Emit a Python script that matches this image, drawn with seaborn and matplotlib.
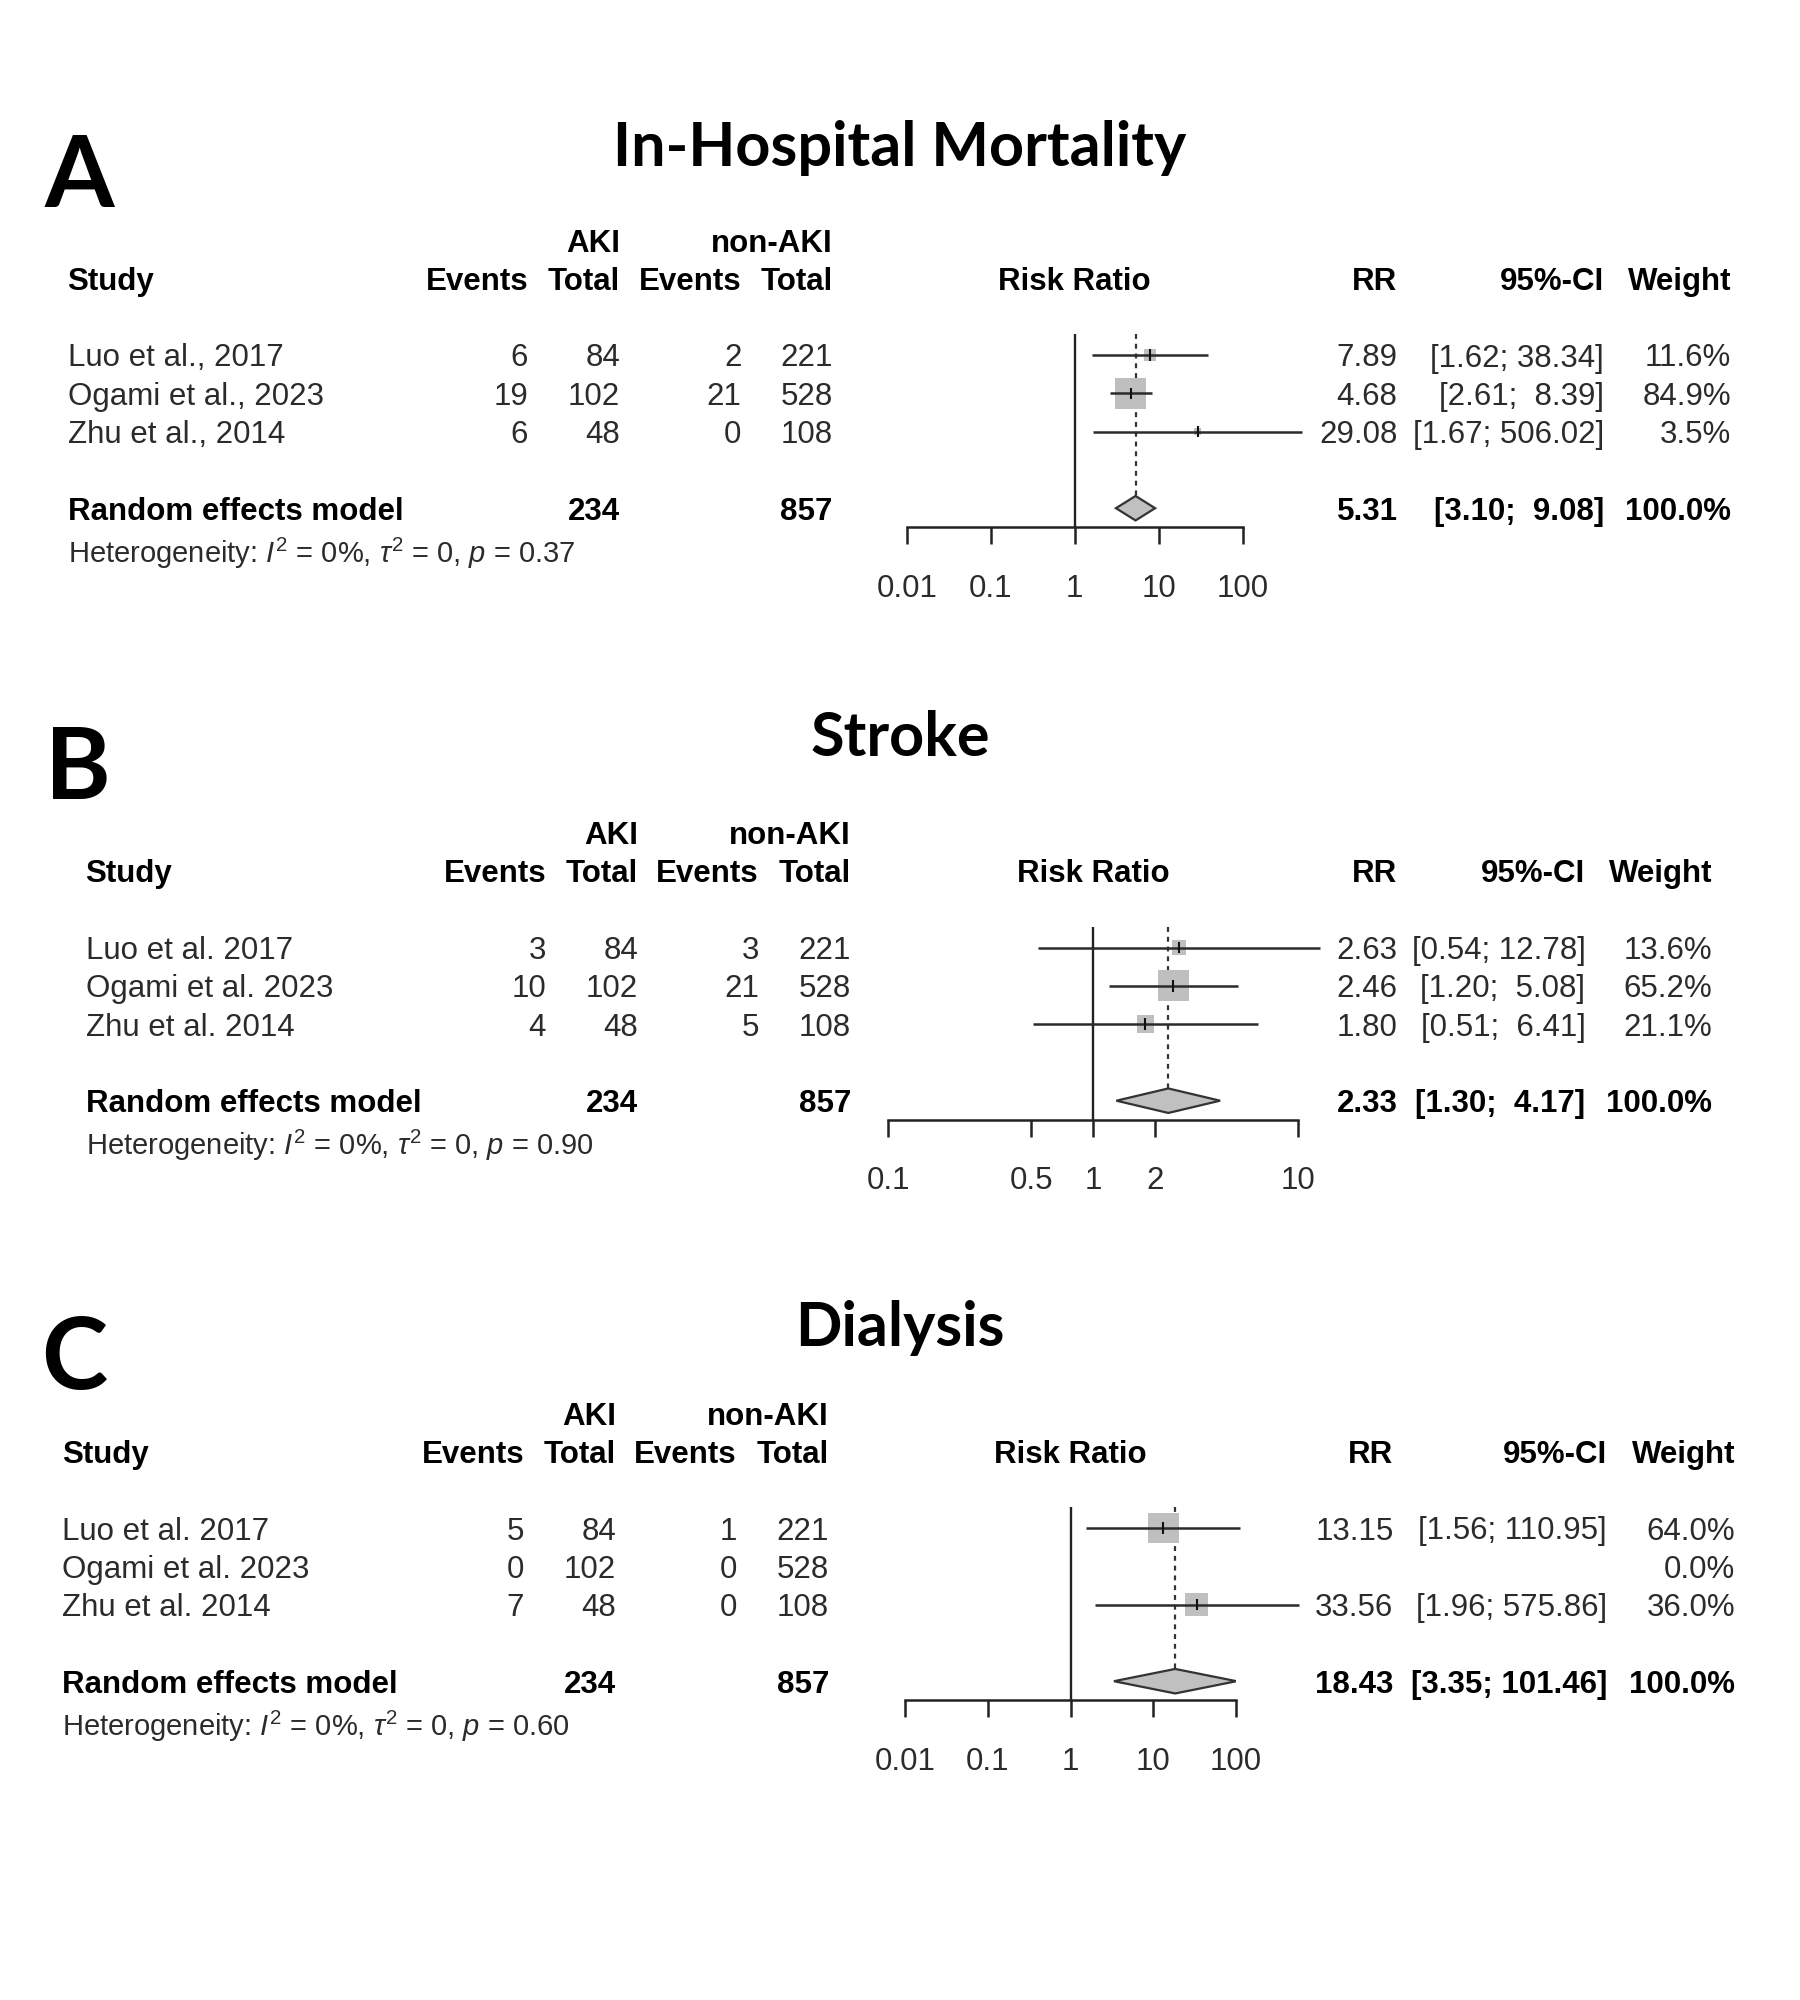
import numpy as np
import pandas as pd
import matplotlib
matplotlib.use('Agg')
import matplotlib.pyplot as plt
import matplotlib.transforms as mtransforms
from matplotlib.patches import Polygon
import seaborn as sns

sns.set_style('white')
plt.rcParams['font.family'] = ['Liberation Sans', 'DejaVu Sans']
plt.rcParams['mathtext.fontset'] = 'custom'
plt.rcParams['mathtext.rm'] = 'Liberation Sans'
plt.rcParams['mathtext.it'] = 'Liberation Sans:italic'

# ---- data -----------------------------------------------------------
# A: in-hospital mortality
studies_a = ['Luo et al., 2017', 'Ogami et al., 2023', 'Zhu et al., 2014']
ev_aki_a = [6, 19, 6]
tot_aki_a = [84, 102, 48]
ev_non_a = [2, 21, 0]
tot_non_a = [221, 528, 108]
rr_a = [7.89, 4.68, 29.08]
lo_a = [1.62, 2.61, 1.67]
hi_a = [38.34, 8.39, 506.02]
wt_a = [11.6, 84.9, 3.5]
summ_a = [5.31, 3.10, 9.08]
p_a = '0.37'
ticks_a = [0.01, 0.1, 1, 10, 100]
ticklab_a = ['0.01', '0.1', '1', '10', '100']

# B: stroke
studies_b = ['Luo et al. 2017', 'Ogami et al. 2023', 'Zhu et al. 2014']
ev_aki_b = [3, 10, 4]
tot_aki_b = [84, 102, 48]
ev_non_b = [3, 21, 5]
tot_non_b = [221, 528, 108]
rr_b = [2.63, 2.46, 1.80]
lo_b = [0.54, 1.20, 0.51]
hi_b = [12.78, 5.08, 6.41]
wt_b = [13.6, 65.2, 21.1]
summ_b = [2.33, 1.30, 4.17]
p_b = '0.90'
ticks_b = [0.1, 0.5, 1, 2, 10]
ticklab_b = ['0.1', '0.5', '1', '2', '10']

# C: dialysis
studies_c = ['Luo et al. 2017', 'Ogami et al. 2023', 'Zhu et al. 2014']
ev_aki_c = [5, 0, 7]
tot_aki_c = [84, 102, 48]
ev_non_c = [1, 0, 0]
tot_non_c = [221, 528, 108]
rr_c = [13.15, np.nan, 33.56]
lo_c = [1.56, np.nan, 1.96]
hi_c = [110.95, np.nan, 575.86]
wt_c = [64.0, 0.0, 36.0]
summ_c = [18.43, 3.35, 101.46]
p_c = '0.60'
ticks_c = [0.01, 0.1, 1, 10, 100]
ticklab_c = ['0.01', '0.1', '1', '10', '100']

total_aki = 234
total_non = 857

# ---- layout (pixels in the 1800x2000 canvas) -------------------------
W, H = 1800, 2000
UNIT = 38.3
layout = {
    'A': dict(row0=355, xl=907, xr=1242.5, study=67.5, c1=528, c2=620, c3=741.5, c4=832.5,
              rr=1397.5, ci=1604, wt=1731, title_y=144, letter=(44.6, 170)),
    'B': dict(row0=947.5, xl=888, xr=1298, study=85.5, c1=546, c2=638, c3=759, c4=851,
              rr=1397.5, ci=1585.5, wt=1712, title_y=733.5, letter=(44.6, 762)),
    'C': dict(row0=1528, xl=905, xr=1236, study=62.5, c1=524, c2=616, c3=737, c4=829,
              rr=1393.5, ci=1607, wt=1735, title_y=1323.5, letter=(41, 1352)),
}

TXT = '#2b2b2b'
FS = 22.5

fig = plt.figure(figsize=(18, 20), dpi=100)
fig.patch.set_facecolor('white')


def fig_text(x_px, yc_px, s, cap_px, **kw):
    # place text with its cap-height centre at yc_px
    fig.text(x_px / W, 1 - (yc_px + cap_px / 2) / H, s, va='baseline', **kw)


def fmt_ci(lo, hi):
    pad = ' ' if hi < 10 else ''
    return f'[{lo:.2f}; {pad}{hi:.2f}]'


def draw_panel(key, title, studies, ev1, n1, ev2, n2, rr, lo, hi, wt, summ, ticks, ticklab, p):
    L = layout[key]
    top_px = L['row0'] - 0.54 * UNIT
    bot_px = L['row0'] + 4.5 * UNIT
    ax = fig.add_axes([L['xl'] / W, 1 - bot_px / H, (L['xr'] - L['xl']) / W, (bot_px - top_px) / H])
    ax.set_xscale('log')
    ax.set_xlim(ticks[0], ticks[-1])
    ax.set_ylim(4.5, -0.54)
    ax.patch.set_alpha(0)
    for s in ['top', 'right', 'left']:
        ax.spines[s].set_visible(False)
    ax.spines['bottom'].set_linewidth(1.8)
    ax.spines['bottom'].set_color('#222222')
    ax.set_xticks(ticks)
    ax.set_xticklabels(ticklab)
    ax.xaxis.set_minor_locator(matplotlib.ticker.NullLocator())
    ax.set_yticks([])
    ax.tick_params(axis='x', bottom=True, direction='out', length=12.5, width=1.8,
                   color='#222222', pad=21, labelsize=FS, labelcolor=TXT)

    df = pd.DataFrame({'rr': rr, 'lo': lo, 'hi': hi, 'w': wt, 'row': np.arange(len(rr))})
    d = df.dropna()
    ax.axvline(1, color='#222222', lw=1.7, zorder=1)
    ax.vlines(summ[0], -0.54, 4 - 0.32, colors='#333333', lw=1.6,
              linestyles=(0, (2.2, 2.2)), zorder=1)
    sns.scatterplot(data=d, x='rr', y='row', size='w', sizes=(0, 498), size_norm=(0, max(wt)),
                    marker='s', color='#bfbfbf', linewidth=0, legend=False, ax=ax, zorder=2,
                    clip_on=False)
    ax.hlines(d['row'], d['lo'], d['hi'], colors='#2b2b2b', lw=1.8, zorder=3, clip_on=False)
    ax.vlines(d['rr'], d['row'] - 0.15, d['row'] + 0.15, colors='#111111', lw=1.5, zorder=4)
    diamond = Polygon([(summ[1], 4), (summ[0], 4 - 0.32), (summ[2], 4), (summ[0], 4 + 0.32)],
                      closed=True, facecolor='#c0c0c0', edgecolor='#333333', lw=1.6, zorder=3)
    ax.add_patch(diamond)
    ax.set_xlabel('')
    ax.set_ylabel('')

    # table text
    tr = mtransforms.blended_transform_factory(fig.transFigure, ax.transData)
    tr = mtransforms.offset_copy(tr, fig=fig, y=-11.5, units='dots')
    trx = mtransforms.offset_copy(ax.transData, fig=fig, y=-11.5, units='dots')

    def t(xpx, row, s, ha='right', bold=False, color=None, **kw):
        ax.text(xpx / W, row, s, transform=tr, ha=ha, va='baseline', fontsize=FS,
                fontweight='bold' if bold else 'normal',
                color=color if color else ('black' if bold else TXT), clip_on=False, **kw)

    t(L['c2'], -3, 'AKI', bold=True)
    t(L['c4'], -3, 'non-AKI', bold=True)
    t(L['study'], -2, 'Study', ha='left', bold=True)
    t(L['c1'], -2, 'Events', bold=True)
    t(L['c2'], -2, 'Total', bold=True)
    t(L['c3'], -2, 'Events', bold=True)
    t(L['c4'], -2, 'Total', bold=True)
    ax.text(1, -2, 'Risk Ratio', transform=trx, ha='center', va='baseline', fontsize=FS,
            fontweight='bold', color='black', clip_on=False)
    t(L['rr'], -2, 'RR', bold=True)
    t(L['ci'], -2, '95%-CI', bold=True)
    t(L['wt'], -2, 'Weight', bold=True)

    for i in range(len(studies)):
        t(L['study'], i, studies[i], ha='left')
        t(L['c1'], i, str(ev1[i]))
        t(L['c2'], i, str(n1[i]))
        t(L['c3'], i, str(ev2[i]))
        t(L['c4'], i, str(n2[i]))
        if not np.isnan(rr[i]):
            t(L['rr'], i, f'{rr[i]:.2f}')
            t(L['ci'], i, fmt_ci(lo[i], hi[i]))
        t(L['wt'], i, f'{wt[i]:.1f}%')

    t(L['study'], 4, 'Random effects model', ha='left', bold=True)
    t(L['c2'], 4, str(total_aki), bold=True)
    t(L['c4'], 4, str(total_non), bold=True)
    t(L['rr'], 4, f'{summ[0]:.2f}', bold=True)
    t(L['ci'], 4, fmt_ci(summ[1], summ[2]), bold=True)
    t(L['wt'], 4, '100.0%', bold=True)
    ax.text(L['study'] / W, 5.12, r'Heterogeneity: $I^2$ = 0%, $\tau^2$ = 0, $p$ = ' + p,
            transform=tr, ha='left', va='baseline', fontsize=21, color=TXT, clip_on=False)

    # title and panel letter
    fig_text(W / 2, L['title_y'], title, 45, ha='center', fontsize=44, fontweight='bold',
             family=['Lato', 'DejaVu Sans'], color='black')
    lx, ly = L['letter']
    fig_text(lx, ly, key, 74, ha='left', fontsize=72, fontweight='bold',
             family=['Lato', 'DejaVu Sans'], color='black')


draw_panel('A', 'In-Hospital Mortality', studies_a, ev_aki_a, tot_aki_a, ev_non_a, tot_non_a,
           rr_a, lo_a, hi_a, wt_a, summ_a, ticks_a, ticklab_a, p_a)
draw_panel('B', 'Stroke', studies_b, ev_aki_b, tot_aki_b, ev_non_b, tot_non_b,
           rr_b, lo_b, hi_b, wt_b, summ_b, ticks_b, ticklab_b, p_b)
draw_panel('C', 'Dialysis', studies_c, ev_aki_c, tot_aki_c, ev_non_c, tot_non_c,
           rr_c, lo_c, hi_c, wt_c, summ_c, ticks_c, ticklab_c, p_c)

fig.savefig('out.png', dpi=100, facecolor='white')
